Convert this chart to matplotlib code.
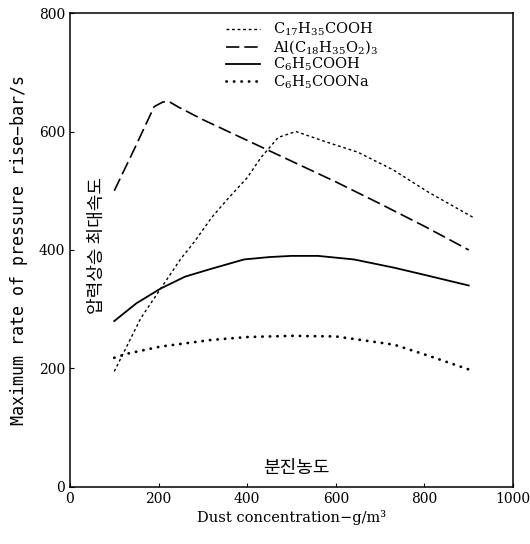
import numpy as np
import matplotlib.pyplot as plt

## data
# C17H35COOH (fine dotted)
x_stearic = [100, 130, 160, 205, 250, 281, 320, 357, 400, 431, 470, 510, 580, 650, 730, 808, 910]
y_stearic = [195, 240, 285, 335, 385, 414, 455, 487, 522, 556, 590, 600, 582, 565, 535, 498, 455]

# Al(C18H35O2)3 (long dashes)
x_al = [100, 145, 190, 210, 225, 243, 300, 400, 500, 600, 700, 800, 900]
y_al = [500, 570, 642, 650, 650, 642, 620, 585, 550, 515, 478, 440, 400]

# C6H5COOH (solid)
x_benz = [100, 150, 205, 260, 318, 393, 450, 500, 560, 641, 732, 800, 900]
y_benz = [280, 310, 335, 355, 368, 384, 388, 390, 390, 384, 370, 358, 340]

# C6H5COONa (coarse dots)
x_na = [100, 130, 205, 318, 400, 500, 600, 657, 732, 807, 905]
y_na = [218, 225, 237, 248, 253, 255, 254, 248, 240, 222, 197]

labels = [r'C$_{17}$H$_{35}$COOH',
          r'Al(C$_{18}$H$_{35}$O$_2$)$_3$',
          r'C$_6$H$_5$COOH',
          r'C$_6$H$_5$COONa']

x_ticks = [0, 200, 400, 600, 800, 1000]
y_ticks = [0, 200, 400, 600, 800]

plt.rcParams['font.family'] = ['DejaVu Serif']
plt.rcParams['mathtext.fontset'] = 'dejavuserif'

fig = plt.figure(figsize=(5.3, 5.44), dpi=100)
ax = fig.add_axes([0.132, 0.105, 0.836, 0.871])

ax.plot(x_stearic, y_stearic, color='black', lw=1.0, linestyle=(0, (2, 2)), label=labels[0])
ax.plot(x_al, y_al, color='black', lw=1.2, linestyle=(0, (8, 3)), label=labels[1])
ax.plot(x_benz, y_benz, color='black', lw=1.3, linestyle='-', label=labels[2])
ax.plot(x_na, y_na, color='black', lw=2.0, linestyle=(0, (0.1, 2.6)),
        dash_capstyle='round', label=labels[3])

ax.set_xlim(0, 1000)
ax.set_ylim(0, 800)
ax.set_xticks(x_ticks)
ax.set_yticks(y_ticks)
ax.tick_params(direction='in', length=3, width=0.8, labelsize=10)
for sp in ax.spines.values():
    sp.set_linewidth(1.1)

ax.set_xlabel('Dust concentration−g/m³', fontsize=10.5, labelpad=3)
ax.set_ylabel('Maximum rate of pressure rise−bar/s', fontsize=12,
              family=['DejaVu Sans Mono'], labelpad=8)

# Korean annotations
ax.text(0.06, 0.51, '압력상승 최대속도', transform=ax.transAxes, rotation=90,
        ha='center', va='center', fontsize=13, family=['Noto Sans CJK KR', 'DejaVu Sans'])
ax.text(0.51, 0.04, '분진농도', transform=ax.transAxes,
        ha='center', va='center', fontsize=13, family=['Noto Sans CJK KR', 'DejaVu Sans'])

ax.legend(loc='upper left', bbox_to_anchor=(0.33, 1.005), frameon=False,
          fontsize=10.5, handlelength=2.3, labelspacing=0.0, handletextpad=0.9,
          borderpad=0.2)

fig.savefig('out.png', dpi=100)
